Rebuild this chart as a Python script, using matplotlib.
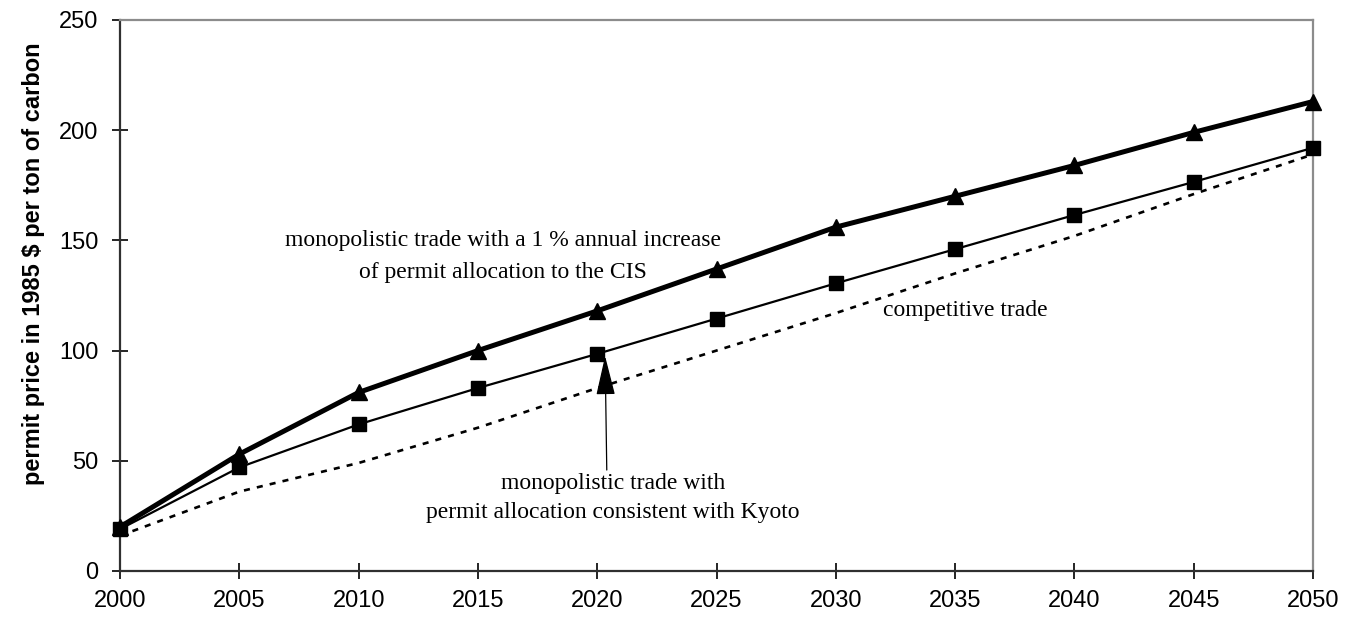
import matplotlib
matplotlib.use("Agg")
import matplotlib.pyplot as plt

# Permit price paths, 1985 $ per ton of carbon
years = [2000, 2005, 2010, 2015, 2020, 2025, 2030, 2035, 2040, 2045, 2050]
mono_cis_increase = [20, 53, 81, 100, 118, 137, 156, 170, 184, 199, 213]
mono_kyoto = [19, 47, 66.5, 83, 98.5, 114.5, 130.5, 146, 161.5, 176.5, 192]
competitive = [16, 36, 49, 65, 83, 100, 117, 135, 152, 171, 189]

y_ticks = [0, 50, 100, 150, 200, 250]
y_label = "permit price in 1985 $ per ton of carbon"

label_cis = "monopolistic trade with a 1 % annual increase\nof permit allocation to the CIS"
label_comp = "competitive trade"
label_kyoto = "monopolistic trade with\npermit allocation consistent with Kyoto"

# arrow pointing from the Kyoto label up to its series
arrow_tip = (2020.33, 97.5)
arrow_tail = (2020.4, 45.8)

fig = plt.figure(figsize=(13.49, 6.24), dpi=100)
ax = fig.add_axes([0.089, 0.085, 0.8843, 0.883])

ax.plot(years, competitive, color="black", lw=1.9, linestyle=(0, (2.3, 2.7)),
        zorder=2, clip_on=False)
ax.plot(years, mono_kyoto, color="black", lw=1.6, marker="s", markersize=10.5,
        zorder=3, clip_on=False)
ax.plot(years, mono_cis_increase, color="black", lw=3.6, marker="^",
        markersize=11.5, zorder=4, clip_on=False)

ax.set_xlim(2000, 2050)
ax.set_ylim(0, 250)
ax.set_xticks(years)
ax.set_yticks(y_ticks)

tick_font = dict(family="Liberation Sans", size=17)
ax.set_xticklabels([str(y) for y in years], **tick_font)
ax.set_yticklabels([str(v) for v in y_ticks], **tick_font)
ax.tick_params(axis="both", direction="inout", length=11.5, width=1.2,
               color="black")
ax.tick_params(axis="x", pad=8)
ax.tick_params(axis="y", pad=10)

for side in ("left", "bottom"):
    ax.spines[side].set_color("#303030")
    ax.spines[side].set_linewidth(1.6)
for side in ("top", "right"):
    ax.spines[side].set_color("#8c8c8c")
    ax.spines[side].set_linewidth(1.6)

ax.set_ylabel(y_label, family="Liberation Sans", fontweight="bold", size=17)
ax.yaxis.set_label_coords(-0.063, 0.557)

serif = dict(family="Liberation Serif", size=17, color="black")
ax.text(2016.05, 142.7, label_cis, ha="center", va="center",
        multialignment="center", linespacing=1.68, **serif)
ax.text(2035.44, 118.4, label_comp, ha="center", va="center", **serif)
ax.text(2020.66, 33.1, label_kyoto, ha="center", va="center",
        multialignment="center", linespacing=1.53, **serif)

ax.annotate("", xy=arrow_tip, xytext=arrow_tail,
            arrowprops=dict(arrowstyle="-|>,head_length=1.25,head_width=0.3",
                            mutation_scale=20, color="black", lw=0.9,
                            shrinkA=0, shrinkB=0))

fig.savefig("out.png", dpi=100)
